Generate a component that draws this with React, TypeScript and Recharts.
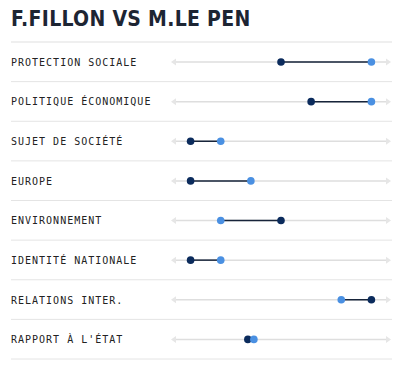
import React from 'react';
import { Bar, ComposedChart, XAxis, YAxis } from 'recharts';

// Scores on a -3..+3 scale
const themes = [
    'PROTECTION SOCIALE',
    'POLITIQUE ÉCONOMIQUE',
    'SUJET DE SOCIÉTÉ',
    'EUROPE',
    'ENVIRONNEMENT',
    'IDENTITÉ NATIONALE',
    'RELATIONS INTER.',
    "RAPPORT À L'ÉTAT",
];
const fillon = [0, 1, -3, -3, 0, -3, 3, -1.1];
const lePen = [3, 3, -2, -1, -2, -2, 2, -0.9];

const W = 403;
const H = 373;
const MARGIN = { top: 42, right: 12, bottom: 14, left: 0 };
const ROW_H = (H - MARGIN.top - MARGIN.bottom) / themes.length;
const RULE_LEFT = 11;
const RULE_RIGHT = 392;

const DARK = '#0b2b5c';
const LIGHT = '#4a90e2';
const LINK = '#17243a';
const TRACK = '#dedede';

const data = themes.map((name, i) => ({
    name,
    fillon: fillon[i],
    lePen: lePen[i],
}));

function LabelTick(props: any) {
    const { y, payload, index } = props;
    return (
        <g>
            {index === 0 && (
                <line
                    x1={RULE_LEFT}
                    x2={RULE_RIGHT}
                    y1={y - ROW_H / 2}
                    y2={y - ROW_H / 2}
                    stroke="#efefef"
                    strokeWidth={2}
                />
            )}
            <text
                x={RULE_LEFT}
                y={y}
                dy={4}
                textAnchor="start"
                fill="#222"
                fontSize={10}
                letterSpacing={1}
                fontFamily='"DejaVu Sans Mono", "Liberation Mono", monospace'
            >
                {payload.value}
            </text>
            <line
                x1={RULE_LEFT}
                x2={RULE_RIGHT}
                y1={y + ROW_H / 2}
                y2={y + ROW_H / 2}
                stroke="#e4e4e4"
                strokeWidth={1}
            />
        </g>
    );
}

function Track(props: any) {
    const { x, y, width, height } = props;
    const cy = y + height / 2;
    const x2 = x + width;
    return (
        <g>
            <line x1={x + 3} x2={x2 - 3} y1={cy} y2={cy} stroke={TRACK} strokeWidth={1.5} />
            <path d={`M${x},${cy} L${x + 5},${cy - 3.5} L${x + 5},${cy + 3.5} Z`} fill="#e6e6e6" />
            <path d={`M${x2},${cy} L${x2 - 5},${cy - 3.5} L${x2 - 5},${cy + 3.5} Z`} fill="#e6e6e6" />
        </g>
    );
}

function Dumbbell(props: any) {
    const { x, y, width, height, payload } = props;
    const cy = y + height / 2;
    const darkLeft = payload.fillon <= payload.lePen;
    const darkX = darkLeft ? x : x + width;
    const lightX = darkLeft ? x + width : x;
    return (
        <g>
            <line x1={x} x2={x + width} y1={cy} y2={cy} stroke={LINK} strokeWidth={1.5} />
            <circle cx={darkX} cy={cy} r={3.8} fill={DARK} />
            <circle cx={lightX} cy={cy} r={3.8} fill={LIGHT} />
        </g>
    );
}

export default function App() {
    return (
        <div style={{ position: 'absolute', left: 0, top: 0, width: W, height: H, background: '#fff' }}>
            <div
                style={{
                    position: 'absolute',
                    left: 11,
                    top: 7,
                    fontFamily: '"Liberation Sans Narrow", "DejaVu Sans Condensed", sans-serif',
                    fontWeight: 700,
                    fontSize: 21,
                    lineHeight: '24px',
                    letterSpacing: 0.3,
                    color: '#1d2533',
                }}
            >
                F.FILLON VS M.LE PEN
            </div>
            <ComposedChart width={W} height={H} data={data} layout="vertical" margin={MARGIN}>
                <XAxis type="number" domain={[-3.65, 3.65]} hide allowDataOverflow />
                <YAxis
                    type="category"
                    dataKey="name"
                    width={171}
                    axisLine={false}
                    tickLine={false}
                    tick={<LabelTick />}
                    interval={0}
                />
                <Bar
                    dataKey={(d: any) => [Math.min(d.fillon, d.lePen), Math.max(d.fillon, d.lePen)]}
                    barSize={2}
                    background={(p: any) => <Track {...p} />}
                    shape={(p: any) => <Dumbbell {...p} />}
                    isAnimationActive={false}
                />
            </ComposedChart>
        </div>
    );
}
